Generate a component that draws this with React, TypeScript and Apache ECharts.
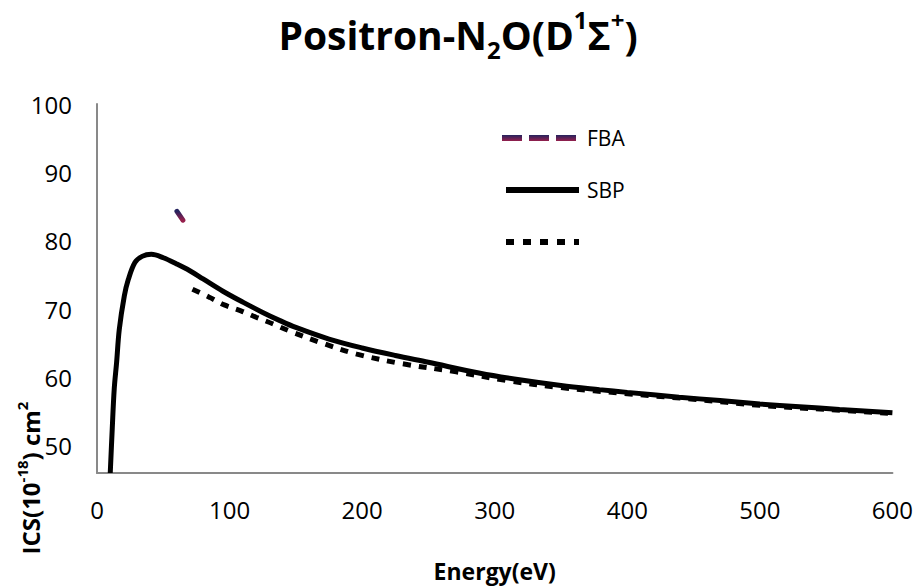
import React, { useEffect, useRef } from "react";
import * as echarts from "echarts";

// Energy (eV) and ICS values
const sbpEnergy = [10, 11.5, 13, 14.8, 16.8, 20.6, 23.6, 28.6, 34, 41, 50, 60, 70, 80, 95, 110, 125, 138, 150, 175, 200, 225, 250, 289, 320, 350, 379, 400, 439, 470, 500, 530, 560, 600];
const sbpValues = [46, 52.5, 58.3, 62.2, 67, 71.9, 74.3, 76.8, 77.7, 78.0, 77.5, 76.6, 75.6, 74.4, 72.6, 71.0, 69.5, 68.3, 67.3, 65.6, 64.3, 63.2, 62.2, 60.6, 59.6, 58.8, 58.2, 57.8, 57.1, 56.6, 56.1, 55.7, 55.3, 54.8];

const dotEnergy = [72, 85, 96, 109, 120, 133, 145, 170, 196, 230, 271, 310, 350, 400, 450, 500, 550, 600];
const dotValues = [72.9, 71.7, 70.6, 69.7, 68.8, 67.8, 66.8, 65.0, 63.4, 62.0, 60.8, 59.5, 58.5, 57.6, 56.8, 55.9, 55.3, 54.7];

const fbaEnergy = [60.3, 64.8];
const fbaValues = [84.3, 83.0];

const seriesNames = ["FBA", "SBP", ""];
const xTicks = { min: 0, max: 600, interval: 100 };
const yTicks = { min: 46, max: 100, interval: 2, labelStep: 10 };

const FONT = "'Open Sans', 'Liberation Sans', sans-serif";

export default function App() {
  const ref = useRef<HTMLDivElement>(null);
  useEffect(() => {
    if (!ref.current) return;
    const chart = echarts.init(ref.current, null, { renderer: "svg" });
    const zip = (xs: number[], ys: number[]) => xs.map((x, i) => [x, ys[i]]);
    const stops = [
      { offset: 0, color: "#25235e" },
      { offset: 1, color: "#951f4c" },
    ];
    const fbaGrad = new echarts.graphic.LinearGradient(0, 0, 0, 1, stops);
    const legendGrad = new echarts.graphic.LinearGradient(0, 135, 0, 141, stops, true);
    const legendText = (name: string, y: number) => ({
      type: "text",
      x: 587,
      y,
      style: { text: name, fontSize: 21, fill: "#000", fontFamily: FONT, verticalAlign: "middle", align: "left" },
    });
    chart.setOption({
      animation: false,
      backgroundColor: "#ffffff",
      textStyle: { fontFamily: FONT },
      title: {
        left: "center",
        top: 2,
        text: "{m|Positron-N}{sub|2}{m|O(D}{sup|1}{m|Σ}{sup|+}{m|)}",
        textStyle: {
          rich: {
            m: { fontSize: 39, fontWeight: "bold", color: "#000", lineHeight: 54, fontFamily: FONT },
            sup: { fontSize: 24, fontWeight: "bold", color: "#000", lineHeight: 22, verticalAlign: "top", fontFamily: FONT },
            sub: { fontSize: 24, fontWeight: "bold", color: "#000", lineHeight: 22, verticalAlign: "bottom", fontFamily: FONT },
          },
        },
      },
      grid: { left: 97, right: 23, top: 104, bottom: 113, containLabel: false },
      xAxis: {
        type: "value",
        min: xTicks.min,
        max: xTicks.max,
        interval: xTicks.interval,
        name: "Energy(eV)",
        nameLocation: "middle",
        nameGap: 86,
        nameTextStyle: { fontSize: 23, fontWeight: "bold", color: "#000", fontFamily: FONT },
        axisLine: { show: true, lineStyle: { color: "#898989", width: 2 } },
        axisTick: { show: false },
        splitLine: { show: false },
        axisLabel: { margin: 24, fontSize: 24, color: "#000", fontFamily: FONT },
      },
      yAxis: {
        type: "value",
        min: yTicks.min,
        max: yTicks.max,
        interval: yTicks.interval,
        axisLine: { show: true, onZero: false, lineStyle: { color: "#898989", width: 2 } },
        axisTick: { show: false },
        splitLine: { show: false },
        axisLabel: {
          margin: 25,
          fontSize: 24,
          color: "#000",
          fontFamily: FONT,
          formatter: (v: number) => (v % yTicks.labelStep === 0 ? String(v) : ""),
        },
      },
      graphic: [
        {
          type: "text",
          x: 30,
          y: 478,
          rotation: Math.PI / 2,
          style: {
            text: "{m|ICS(10}{sup|-18}{m|) cm}{sup|2}",
            align: "center",
            verticalAlign: "middle",
            rich: {
              m: { fontSize: 24, fontWeight: "bold", fill: "#000", lineHeight: 32, fontFamily: FONT },
              sup: { fontSize: 15, fontWeight: "bold", fill: "#000", lineHeight: 15, verticalAlign: "top", fontFamily: FONT },
            },
          },
        },
        {
          type: "line",
          shape: { x1: 502, y1: 138, x2: 576, y2: 138 },
          style: { stroke: legendGrad, lineWidth: 6, lineDash: [20, 7] },
        },
        legendText(seriesNames[0], 138),
        {
          type: "line",
          shape: { x1: 506, y1: 190, x2: 579, y2: 190 },
          style: { stroke: "#000", lineWidth: 6 },
        },
        legendText(seriesNames[1], 190),
        {
          type: "line",
          shape: { x1: 506, y1: 242, x2: 579, y2: 242 },
          style: { stroke: "#000", lineWidth: 6, lineDash: [8, 9] },
        },
        legendText(seriesNames[2], 242),
      ],
      series: [
        {
          name: seriesNames[0],
          type: "line",
          data: zip(fbaEnergy, fbaValues),
          symbol: "none",
          lineStyle: { width: 5, type: [20, 8], color: fbaGrad, cap: "round" },
          itemStyle: { color: "#5a2154" },
          z: 4,
        },
        {
          name: seriesNames[1],
          type: "line",
          data: zip(sbpEnergy, sbpValues),
          symbol: "none",
          smooth: 0.35,
          lineStyle: { width: 5, color: "#000" },
          itemStyle: { color: "#000" },
          z: 3,
        },
        {
          name: "dotted",
          type: "line",
          data: zip(dotEnergy, dotValues),
          symbol: "none",
          smooth: 0.35,
          lineStyle: { width: 5, type: [8, 8], color: "#000" },
          itemStyle: { color: "#000" },
          z: 2,
        },
      ],
    });
    return () => chart.dispose();
  }, []);
  return <div ref={ref} style={{ position: "fixed", left: 0, top: 0, width: 916, height: 587 }} />;
}
